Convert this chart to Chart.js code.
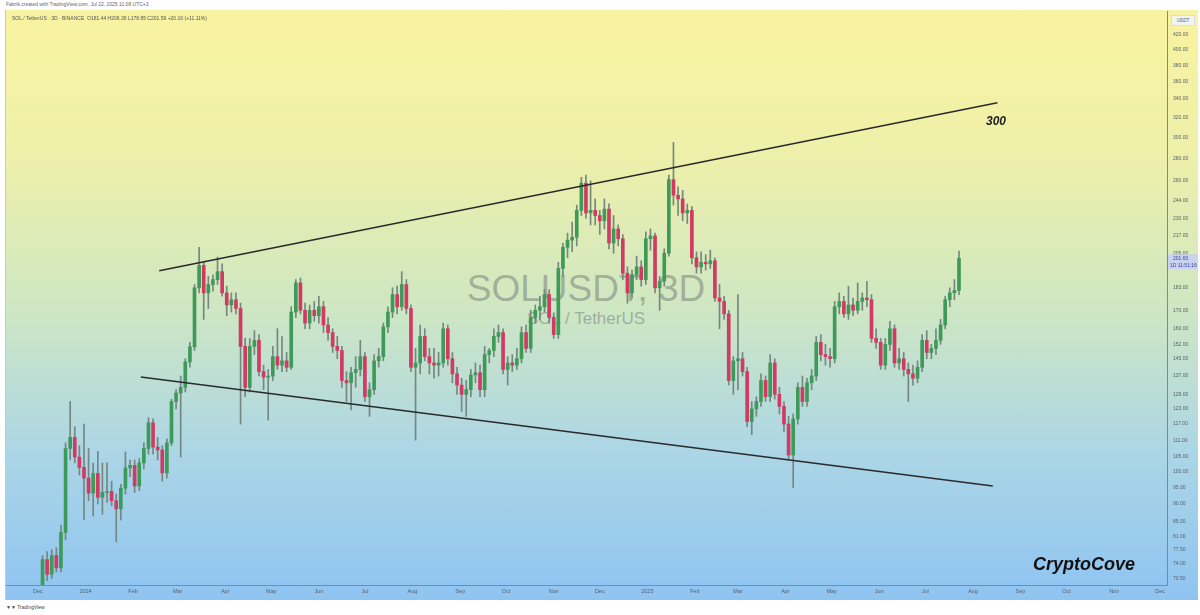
<!DOCTYPE html>
<html>
<head>
<meta charset="utf-8">
<script src="https://cdn.jsdelivr.net/npm/chart.js@4.4.1/dist/chart.umd.min.js"></script>
<style>
html, body { margin: 0; padding: 0; width: 1200px; height: 615px; overflow: hidden; background: #fff; font-family: "Liberation Sans", Arial, sans-serif; }
#top { position: absolute; left: 6px; top: 1px; font-size: 5px; color: #666; }
#panel { position: absolute; left: 5px; top: 10px; width: 1193px; height: 590px; border-left: 1px solid #c9c9c9; box-sizing: border-box;
  background: linear-gradient(to bottom, #f8f3a0 0%, #eef0aa 25%, #cfe7c2 50%, #acd6e6 75%, #8fc4f2 100%); }
#legend { position: absolute; left: 6px; top: 5px; font-size: 5px; color: #555; z-index: 3; }
.wm1 { position: absolute; left: 0; width: 1160px; text-align: center; top: 258px; font-size: 37px; color: rgba(100,105,105,0.45); z-index: 0; }
.wm2 { position: absolute; left: 0; width: 1160px; text-align: center; top: 299px; font-size: 17px; color: rgba(100,105,105,0.45); z-index: 0; }
#c { position: absolute; left: 0; top: 0; z-index: 1; }
#usdt { position: absolute; left: 1165px; top: 5px; width: 22px; height: 9px; background: #f4f4ee; border: 1px solid #ddd; font-size: 4.5px; color: #557; text-align: center; line-height: 9px; z-index: 3; }
#lbl300 { position: absolute; left: 980px; top: 104px; font-size: 12px; font-weight: bold; font-style: italic; color: #222; z-index: 3; }
#brand { position: absolute; left: 1027px; top: 544px; font-size: 18px; font-weight: bold; font-style: italic; color: #111; z-index: 3; }
#tv { position: absolute; left: 6px; top: 604px; font-size: 5px; color: #444; }
</style>
</head>
<body>
<div id="top">Fabrik created with TradingView.com, Jul 22, 2025 11:08 UTC+3</div>
<div id="panel">
  <div id="legend">SOL / TetherUS · 3D · BINANCE &nbsp;O181.44 H206.36 L178.85 C201.59 +20.16 (+11.11%)</div>
  <div class="wm1">SOLUSDT, 3D</div>
  <div class="wm2">SOL / TetherUS</div>
  <canvas id="c" width="1193" height="590"></canvas>
  <div id="usdt">USDT</div>
  <div id="lbl300">300</div>
  <div id="brand">CryptoCove</div>
</div>
<div id="tv">&#9660;&#9660; TradingView</div>

<script>
// 3D candles, first one starts 3 days after 1 Dec 2023
const firstDay = 3;
const stepDays = 3;

const opens = [
  66, 75, 71.5, 76, 73, 82, 108, 112, 105, 101.5,
  98, 93.3, 99.5, 92, 93.5, 93.8, 91, 88.6, 94.8, 101.3,
  102.2, 95.5, 103, 108, 117.5, 108.5, 107.5, 99.7, 110, 126,
  129.6, 132, 143.5, 150.8, 183, 197, 180, 185, 188, 193,
  180, 173, 176, 171, 151, 132, 151, 154, 139, 136.5,
  137, 146, 142, 144, 141, 169, 186, 170, 163, 170,
  167, 172, 162, 158, 151, 149, 135, 134, 138.5, 140,
  146, 128, 131, 144, 146, 161, 169, 179, 172, 185,
  171, 141, 143, 156, 146, 143, 142, 143, 160, 145,
  138, 133, 129, 131, 137.5, 138.5, 131, 147, 149, 156,
  158, 140, 143, 142, 145, 158, 150, 166, 170, 172,
  179, 166, 157, 195, 209, 214, 216, 236, 258, 234,
  236, 232, 228, 237, 212, 222, 215, 192, 180, 191,
  196, 188, 215, 217, 183, 187, 205, 261, 248, 245,
  234, 236, 202, 196, 199, 198, 200, 177, 175, 168,
  135, 144, 145, 139, 118, 123, 126, 135, 128, 143,
  129, 124, 117, 105.7, 119, 132, 126, 134, 137, 153,
  147, 146, 145, 172, 175, 168, 173, 170, 175, 177,
  176, 155, 153, 142, 152, 160, 143, 145, 140, 138,
  136, 141, 154, 148, 150, 154, 162, 176, 180, 181.4
];
const highs = [
  76, 77, 77.5, 78, 84, 110, 126, 116, 109, 117,
  108, 103, 107, 103, 103, 97, 93, 96, 106.8, 104,
  104, 104.5, 110, 119.5, 119, 112, 109, 111.5, 127, 131,
  137, 145, 153, 185, 209, 199, 190, 191, 202.5, 198,
  184, 180, 180, 174, 155, 155, 159, 157, 142, 140,
  151, 160, 156, 148, 172, 188, 189, 174, 173, 175,
  178, 175, 166, 160, 156, 151, 139, 141, 146, 154,
  148, 134, 147, 150, 163, 172, 183, 184, 193, 188,
  173, 150, 162, 160, 150, 150, 148, 163, 162, 148,
  141, 136, 135, 140, 143, 142, 151, 150, 160, 162,
  160, 146, 147, 150, 161, 162, 170, 173, 178, 182,
  182, 168, 199, 212, 219, 227, 240, 263, 265, 260,
  245, 236, 245, 241, 232, 225, 218, 196, 194, 203,
  200, 220, 222, 219, 190, 208, 265, 295, 255, 252,
  241, 239, 206, 206, 204, 207, 202, 185, 178, 170,
  146, 179, 148, 141, 126, 128, 138, 137, 147, 145,
  132, 126, 120, 121, 134, 137, 136, 140, 156, 157,
  152, 150, 175, 180, 178, 184, 177, 186, 180, 187,
  179, 160, 155, 155, 164, 162, 150, 148, 143, 142,
  144, 157, 159, 152, 160, 165, 178, 183, 188, 206.4
];
const lows = [
  64, 70, 70.5, 72, 72, 80, 104, 103, 99, 85.5,
  91, 86.5, 90, 87, 90.5, 89.5, 79.5, 85.4, 93, 98.5,
  93.5, 94, 101, 106, 106, 104, 97, 98, 109, 123,
  105, 130, 141, 149, 180, 165, 171, 181, 185, 178,
  167, 169, 168, 117, 128, 130, 147, 137, 131, 118.6,
  135, 140, 139, 139, 140, 166, 168, 160, 160, 164,
  163, 158, 154, 148, 145, 132, 126, 122.6, 132, 137,
  126, 120, 129, 141, 144, 158, 166, 168, 170, 168,
  139, 111, 138, 144, 138, 136, 137, 141, 142, 134,
  129, 122, 120, 128, 134, 128, 128, 143, 146, 153,
  138, 133, 139, 140, 143, 148, 148, 163, 165, 169,
  163, 155, 155, 190, 202, 206, 210, 232, 230, 225,
  225, 218, 222, 208, 205, 210, 188, 174, 177, 188,
  184, 185, 207, 180, 170, 184, 203, 240, 232, 228,
  226, 198, 192, 192, 194, 195, 175, 160, 165, 133,
  129, 131, 137, 116, 113, 120, 124, 126, 126, 127,
  121, 114, 104, 95, 117, 124, 124, 131, 135, 144,
  142, 141, 143, 168, 166, 165, 167, 168, 170, 172,
  153, 150, 140, 140, 149, 141, 140, 137, 126, 133,
  134, 139, 145, 145, 147, 152, 160, 172, 176, 178.9
];
const closes = [
  75, 71.5, 76, 73, 82, 108, 112, 105, 101.5, 98,
  93.3, 99.5, 92, 93.5, 93.8, 91, 88.6, 94.8, 101.3, 102.2,
  95.5, 103, 108, 117.5, 108.5, 107.5, 99.7, 110, 126, 129.6,
  132, 143.5, 150.8, 183, 197, 180, 185, 188, 193, 180,
  173, 176, 171, 151, 132, 151, 154, 139, 136.5, 137,
  146, 142, 144, 141, 169, 186, 170, 163, 170, 167,
  172, 162, 158, 151, 149, 135, 134, 138.5, 140, 146,
  128, 131, 144, 146, 161, 169, 179, 172, 185, 171,
  141, 143, 156, 146, 143, 142, 143, 160, 145, 138,
  133, 129, 131, 137.5, 138.5, 131, 147, 149, 156, 158,
  140, 143, 142, 145, 158, 150, 166, 170, 172, 179,
  166, 157, 195, 209, 214, 216, 236, 258, 234, 236,
  232, 228, 237, 212, 222, 215, 192, 180, 191, 196,
  188, 215, 217, 183, 187, 205, 261, 248, 245, 234,
  236, 202, 196, 199, 198, 200, 177, 175, 168, 135,
  144, 145, 139, 118, 123, 126, 135, 128, 143, 129,
  124, 117, 105.7, 119, 132, 126, 134, 137, 153, 147,
  146, 145, 172, 175, 168, 173, 170, 175, 177, 176,
  155, 153, 142, 152, 160, 143, 145, 140, 138, 136,
  141, 154, 148, 150, 154, 162, 176, 180, 181.4, 201.6
];

// trend lines: [day since 1 Dec 2023, price]
const upperLine = [[79, 193.5], [625, 336]];
const lowerLine = [[67, 136.6], [622, 95.5]];

// axis labels
const priceTicks = [420, 400, 380, 360, 340, 320, 300, 280, 260, 244, 230, 217, 205, 183, 170, 160, 152, 145, 137, 129, 123, 117, 111, 105, 100, 95, 90, 85, 81, 77.5, 74, 70.5];
const monthDays = [0, 31, 62, 91, 122, 152, 183, 213, 244, 275, 305, 336, 366, 397, 428, 456, 487, 517, 548, 578, 609, 640, 670, 701, 731];
const monthLabels = ['Dec', '2024', 'Feb', 'Mar', 'Apr', 'May', 'Jun', 'Jul', 'Aug', 'Sep', 'Oct', 'Nov', 'Dec', '2025', 'Feb', 'Mar', 'Apr', 'May', 'Jun', 'Jul', 'Aug', 'Sep', 'Oct', 'Nov', 'Dec'];

const upColor = '#3e9a58';
const downColor = '#d03a63';
const wickColor = '#75877f';

const days = closes.map((c, i) => firstDay + stepDays * i);
const bodies = closes.map((c, i) => ({ x: days[i], y: [opens[i], c] }));
const wicks = closes.map((c, i) => ({ x: days[i], y: [lows[i], highs[i]] }));
const bodyColors = closes.map((c, i) => c >= opens[i] ? upColor : downColor);

const priceTag = {
    id: 'priceTag',
    afterDraw(chart) {
        const last = closes[closes.length - 1];
        const y = chart.scales.y.getPixelForValue(last);
        const x0 = chart.chartArea.right + 1;
        const ctx = chart.ctx;
        ctx.save();
        ctx.fillStyle = '#c9d2ee';
        ctx.fillRect(x0, y - 4, 30, 15);
        ctx.fillStyle = '#3446a6';
        ctx.font = '5px "Liberation Sans"';
        ctx.textBaseline = 'middle';
        ctx.fillText(last.toFixed(2), x0 + 5, y);
        ctx.fillText('1D 11:51:16', x0 + 2, y + 7);
        ctx.restore();
    }
};

new Chart(document.getElementById('c'), {
    type: 'bar',
    data: {
        datasets: [
            {
                type: 'line',
                data: upperLine.map(p => ({ x: p[0], y: p[1] })),
                borderColor: '#2a2a2a',
                borderWidth: 1.5,
                pointRadius: 0,
                order: 0
            },
            {
                type: 'line',
                data: lowerLine.map(p => ({ x: p[0], y: p[1] })),
                borderColor: '#2a2a2a',
                borderWidth: 1.5,
                pointRadius: 0,
                order: 0
            },
            {
                data: wicks,
                backgroundColor: wickColor,
                barThickness: 1,
                grouped: false,
                order: 2
            },
            {
                data: bodies,
                backgroundColor: bodyColors,
                barThickness: 3,
                minBarLength: 1,
                grouped: false,
                order: 1
            }
        ]
    },
    options: {
        responsive: false,
        animation: false,
        layout: { autoPadding: false, padding: { top: 1, left: 0, right: 0, bottom: 0 } },
        plugins: { legend: { display: false }, tooltip: { enabled: false } },
        scales: {
            x: {
                type: 'linear',
                offset: false,
                min: -20.8,
                max: 735.5,
                grid: { display: false, drawTicks: false, offset: false },
                border: { display: true, color: '#6f8fae', width: 1 },
                afterBuildTicks: (scale) => { scale.ticks = monthDays.map(v => ({ value: v })); },
                afterFit: (scale) => { scale.height = 15; scale.paddingLeft = 0; scale.paddingRight = 0; },
                ticks: {
                    autoSkip: false,
                    maxRotation: 0,
                    padding: 3,
                    color: '#56606a',
                    font: { size: 5.5, family: 'Liberation Sans' },
                    callback: (v) => monthLabels[monthDays.indexOf(v)]
                }
            },
            y: {
                type: 'logarithmic',
                position: 'right',
                min: 69,
                max: 454,
                grid: { display: false, drawTicks: false },
                border: { display: true, color: '#7d8a86', width: 1 },
                afterBuildTicks: (scale) => { scale.ticks = priceTicks.map(v => ({ value: v })); },
                afterFit: (scale) => { scale.width = 32; scale.paddingTop = 0; scale.paddingBottom = 0; },
                ticks: {
                    autoSkip: false,
                    padding: 6,
                    color: '#5a6068',
                    font: { size: 5, family: 'Liberation Sans' },
                    callback: (v) => Number(v).toFixed(2)
                }
            }
        }
    },
    plugins: [priceTag]
});
</script>
</body>
</html>
